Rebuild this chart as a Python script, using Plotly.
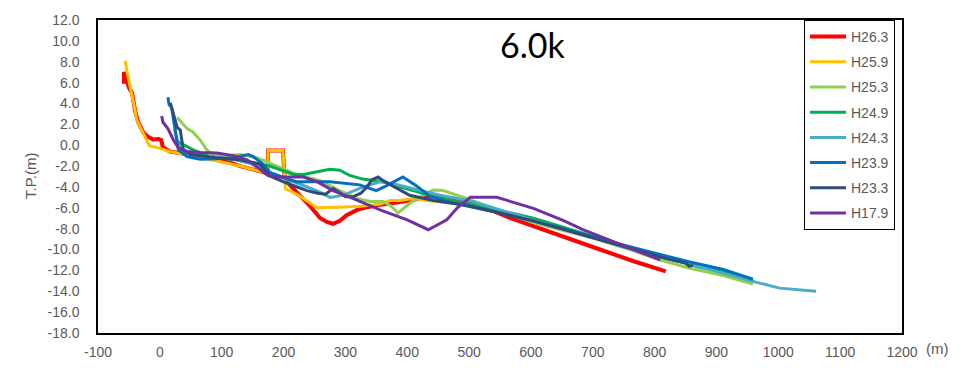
import plotly.graph_objects as go

# Cross-section survey lines at 6.0k: distance (m) vs elevation T.P. (m)
series_names = ["H26.3", "H25.9", "H25.3", "H24.9", "H24.3", "H23.9", "H23.3", "H17.9"]
series_colors = ["#FF0000", "#FFC000", "#92D050", "#00B050", "#4BACC6", "#0070C0", "#2F4B7C", "#7030A0"]
series_widths = [4.0, 3.0, 3.0, 3.0, 3.0, 3.0, 3.0, 3.0]

h26_3_x = [-58, -58, -55, -50, -45, -40, -35, -27, -19, -11, -2, 2, 5, 16, 60, 110, 130, 162, 174,
           175, 199, 202, 215, 227, 243, 259, 270, 280, 291, 302, 319, 335, 356, 393, 442, 474,
           529, 566, 614, 652, 707, 765, 818]
h26_3_y = [5.9, 7.0, 6.6, 5.5, 5.0, 3.3, 2.2, 1.25, 0.8, 0.55, 0.6, 0.5, -0.2, -0.6, -1.0, -1.6, -2.0, -2.5, -2.7,
           -0.5, -0.5, -3.3, -4.1, -4.8, -5.85, -6.97, -7.35, -7.53, -7.25, -6.7, -6.2, -5.94, -5.7, -5.4, -4.9, -5.1,
           -6.05, -6.97, -8.0, -8.8, -9.9, -11.1, -12.1]

h25_9_x = [-56, -51, -43, -37, -27, -17, 0, 16, 60, 100, 130, 162, 174, 175, 199, 203, 210, 227, 254,
           287, 324, 356, 372, 388, 409, 432, 445, 480, 520]
h25_9_y = [8.1, 6.4, 4.2, 2.4, 1.15, -0.05, -0.3, -0.6, -1.1, -1.6, -2.0, -2.5, -2.7, -0.5, -0.5, -4.2, -4.35, -4.9, -6.0,
           -5.95, -5.85, -5.65, -5.3, -5.3, -5.1, -5.3, -5.4, -5.6, -6.0]

h25_3_x = [28, 44, 54, 65, 76, 86, 105, 130, 157, 189, 221, 259, 291, 319, 340, 361, 375, 385, 400, 410,
           442, 458, 496, 545, 615, 700, 760, 809, 857, 911, 959]
h25_3_y = [2.65, 1.6, 1.25, 0.5, -0.45, -0.9, -1.0, -0.9, -1.2, -2.0, -2.8, -3.4, -4.35, -5.1, -5.4, -5.4, -5.9, -6.5, -5.8, -5.3,
           -4.3, -4.35, -5.1, -6.3, -7.6, -8.9, -10.0, -11.0, -11.8, -12.5, -13.3]

h24_9_x = [28, 33, 54, 81, 125, 141, 178, 216, 232, 259, 275, 291, 307, 328, 361, 388, 415, 453, 513,
           604, 744, 873, 911, 959]
h24_9_y = [0.4, 0.2, -0.45, -1.1, -1.4, -1.65, -2.0, -2.8, -2.8, -2.5, -2.3, -2.4, -2.9, -3.25, -3.5, -4.0, -4.45, -5.1, -5.75,
           -7.0, -9.5, -11.7, -12.1, -12.95]

h24_3_x = [24, 30, 45, 70, 98, 130, 151, 189, 221, 259, 275, 296, 329, 356, 377, 410, 453, 507, 604,
           744, 873, 959, 1002, 1061]
h24_3_y = [1.5, 0.0, -0.9, -1.2, -1.2, -1.5, -1.83, -2.95, -3.6, -4.5, -5.0, -4.8, -4.0, -3.5, -3.7, -4.2, -4.8, -5.4, -7.2,
           -9.6, -11.7, -13.05, -13.7, -14.0]

h23_9_x = [13, 15, 19, 22, 26, 30, 44, 65, 92, 119, 143, 151, 167, 178, 205, 221, 243, 275, 323, 350,
           366, 393, 415, 437, 474, 550, 647, 744, 857, 911, 959]
h23_9_y = [4.6, 3.9, 3.6, 2.4, 0.8, -0.45, -1.1, -1.35, -1.3, -1.2, -0.9, -1.1, -1.8, -2.6, -3.2, -3.5, -3.5, -3.5, -3.8, -4.35,
           -3.9, -3.05, -3.9, -4.9, -5.55, -6.5, -7.9, -9.5, -11.2, -11.9, -12.85]

h23_3_x = [17, 22, 28, 33, 36, 38, 50, 90, 130, 162, 178, 199, 221, 238, 255, 268, 280, 290, 300, 312,
           325, 335, 343, 353, 361, 383, 404, 442, 496, 604, 744, 820, 850, 856, 862]
h23_3_y = [4.05, 3.0, 1.7, 1.45, 0.5, -0.45, -0.9, -1.2, -1.4, -1.8, -2.95, -3.5, -3.98, -4.35, -4.6, -4.7, -4.15, -4.5, -4.95, -4.95,
           -4.6, -4.0, -3.3, -3.05, -3.4, -4.15, -4.8, -5.3, -5.75, -7.25, -9.6, -10.9, -11.3, -11.6, -11.5]

h17_9_x = [3, 5, 13, 22, 30, 44, 65, 92, 119, 141, 162, 175, 194, 232, 254, 280, 312, 356, 400, 434,
           464, 481, 502, 545, 604, 652, 684, 749, 809]
h17_9_y = [2.8, 2.2, 1.6, 0.5, -0.25, -0.6, -0.7, -0.75, -1.0, -1.4, -2.3, -2.9, -3.05, -3.05, -3.5, -4.35, -5.1, -6.2, -7.15, -8.1,
           -7.15, -6.0, -5.0, -5.0, -6.05, -7.2, -8.1, -9.6, -11.0]

series_x = [h26_3_x, h25_9_x, h25_3_x, h24_9_x, h24_3_x, h23_9_x, h23_3_x, h17_9_x]
series_y = [h26_3_y, h25_9_y, h25_3_y, h24_9_y, h24_3_y, h23_9_y, h23_3_y, h17_9_y]

x_ticks = list(range(-100, 1201, 100))
y_ticks = list(range(-18, 13, 2))
y_tick_labels = [f"{v:.1f}" for v in y_ticks]

fig = go.Figure()
for name, color, width, xs, ys in zip(series_names, series_colors, series_widths, series_x, series_y):
    fig.add_trace(go.Scatter(
        x=xs, y=ys, mode="lines", name=name, legendgroup=name,
        line=dict(color=color, width=width, shape="linear"),
    ))

tick_font = dict(family="Liberation Sans, Arial, sans-serif", size=14, color="#595959")

fig.update_layout(
    width=963, height=372,
    margin=dict(l=98, r=61, t=17, b=34),
    paper_bgcolor="white", plot_bgcolor="white",
    showlegend=True,
    legend=dict(
        x=(804 - 98) / 804, y=1.0, xanchor="left", yanchor="top",
        bgcolor="white", bordercolor="#000000", borderwidth=1,
        font=dict(family="Liberation Sans, Arial, sans-serif", size=14, color="#595959"),
        tracegroupgap=4, itemwidth=36,
    ),
    xaxis=dict(
        range=[-100, 1200], tickvals=x_ticks, ticktext=[str(v) for v in x_ticks],
        showgrid=False, zeroline=False, showline=True, mirror=True,
        linecolor="#000000", linewidth=1.5, ticks="", tickfont=tick_font,
        ticklabelstandoff=5,
    ),
    yaxis=dict(
        range=[-18, 12], tickvals=y_ticks, ticktext=y_tick_labels,
        showgrid=False, zeroline=False, showline=True, mirror=True,
        linecolor="#000000", linewidth=1.5, ticks="", tickfont=tick_font,
        ticklabelstandoff=14,
    ),
    annotations=[
        dict(text="6.0k", x=532, y=42, showarrow=False,
             font=dict(family="Lato, sans-serif", size=34, color="#000000")),
        dict(text="T.P.(m)", x=30, y=177, textangle=-90, showarrow=False,
             font=dict(family="Liberation Sans, Arial, sans-serif", size=15, color="#595959")),
        dict(text="(m)", x=937, y=354, showarrow=False,
             font=dict(family="Liberation Sans, Arial, sans-serif", size=15, color="#595959")),
    ],
)

# place free text in pixel coordinates of the page
for ann in fig.layout.annotations:
    px, py = ann.x, ann.y
    ann.xref = "paper"
    ann.yref = "paper"
    ann.x = (px - 98) / 804
    ann.y = (338 - py) / 321
    ann.xanchor = "center"
    ann.yanchor = "middle"

fig.write_html("out.html")
